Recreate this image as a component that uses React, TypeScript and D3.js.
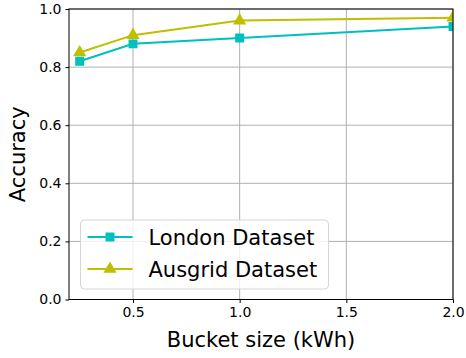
import { useEffect, useRef } from "react"
import * as d3 from "d3"

// Datos
const bucketSizes = [0.25, 0.5, 1.0, 2.0]
const londonAccuracy = [0.82, 0.88, 0.9, 0.94]
const ausgridAccuracy = [0.85, 0.91, 0.96, 0.97]
const xTicks = [0.5, 1.0, 1.5, 2.0]
const yTicks = [0.0, 0.2, 0.4, 0.6, 0.8, 1.0]
const seriesNames = ["London Dataset", "Ausgrid Dataset"]

export default function App() {
  const svgRef = useRef<SVGSVGElement>(null)

  useEffect(() => {
    if (!svgRef.current) return
    const svg = d3.select(svgRef.current)
    svg.selectAll("*").remove()

    const font = "DejaVu Sans"
    const margin = { top: 9, right: 13, bottom: 58.5, left: 69 }
    const width = 466
    const height = 358
    const innerWidth = width - margin.left - margin.right
    const innerHeight = height - margin.top - margin.bottom

    const x = d3.scaleLinear().domain([0.2, 2.0]).range([0, innerWidth])
    const y = d3.scaleLinear().domain([0, 1]).range([innerHeight, 0])

    const g = svg.append("g").attr("transform", `translate(${margin.left},${margin.top})`)

    // Recorte al área de los ejes
    svg
      .append("defs")
      .append("clipPath")
      .attr("id", "plot-clip")
      .append("rect")
      .attr("width", innerWidth)
      .attr("height", innerHeight)

    // Rejilla
    g.append("g")
      .selectAll("line")
      .data(xTicks)
      .join("line")
      .attr("x1", (d) => x(d))
      .attr("x2", (d) => x(d))
      .attr("y1", 0)
      .attr("y2", innerHeight)
      .attr("stroke", "#b0b0b0")
      .attr("stroke-width", 1)
    g.append("g")
      .selectAll("line")
      .data(yTicks)
      .join("line")
      .attr("x1", 0)
      .attr("x2", innerWidth)
      .attr("y1", (d) => y(d))
      .attr("y2", (d) => y(d))
      .attr("stroke", "#b0b0b0")
      .attr("stroke-width", 1)

    // Ejes
    const xAxis = g
      .append("g")
      .attr("transform", `translate(0,${innerHeight})`)
      .call(d3.axisBottom(x).tickValues(xTicks).tickFormat(d3.format(".1f")).tickSize(3.5).tickPadding(4))
    const yAxis = g
      .append("g")
      .call(d3.axisLeft(y).tickValues(yTicks).tickFormat(d3.format(".1f")).tickSize(3.5).tickPadding(4))
    ;[xAxis, yAxis].forEach((a) => {
      a.select(".domain").remove()
      a.selectAll("text").style("font-family", font).style("font-size", "14px").attr("fill", "#000")
      a.selectAll("line").attr("stroke", "#000")
    })

    const series = [
      { name: seriesNames[0], values: londonAccuracy, color: "#00bfbf", marker: d3.symbolSquare, size: 80 },
      { name: seriesNames[1], values: ausgridAccuracy, color: "#bfbf00", marker: d3.symbolTriangle, size: 75 },
    ]

    const line = d3
      .line<number>()
      .x((_, i) => x(bucketSizes[i]))
      .y((d) => y(d))

    const plot = g.append("g").attr("clip-path", "url(#plot-clip)")
    series.forEach((s) => {
      plot
        .append("path")
        .attr("d", line(s.values))
        .attr("fill", "none")
        .attr("stroke", s.color)
        .attr("stroke-width", 2)
      plot
        .append("g")
        .selectAll("path")
        .data(s.values)
        .join("path")
        .attr("transform", (d, i) => `translate(${x(bucketSizes[i])},${y(d)})`)
        .attr("d", d3.symbol().type(s.marker).size(s.size)())
        .attr("fill", s.color)
    })

    // Marco
    g.append("rect")
      .attr("width", innerWidth)
      .attr("height", innerHeight)
      .attr("fill", "none")
      .attr("stroke", "#000")
      .attr("stroke-width", 1)

    // Leyenda
    const legend = svg.append("g").attr("transform", "translate(80.5,220)")
    legend
      .append("rect")
      .attr("width", 248)
      .attr("height", 69)
      .attr("rx", 4)
      .attr("fill", "rgba(255,255,255,0.8)")
      .attr("stroke", "#d5d5d5")
      .attr("stroke-width", 1)
    series.forEach((s, i) => {
      const row = legend.append("g").attr("transform", `translate(0,${17 + i * 32})`)
      row.append("line").attr("x1", 7).attr("x2", 52).attr("stroke", s.color).attr("stroke-width", 2)
      row
        .append("path")
        .attr("transform", "translate(29.5,0)")
        .attr("d", d3.symbol().type(s.marker).size(s.size)())
        .attr("fill", s.color)
      row
        .append("text")
        .attr("x", 68)
        .attr("y", 0)
        .attr("dy", "0.36em")
        .style("font-family", font)
        .style("font-size", "21px")
        .text(s.name)
    })

    // Títulos
    svg
      .append("text")
      .attr("x", margin.left + innerWidth / 2)
      .attr("y", 347)
      .attr("text-anchor", "middle")
      .style("font-family", font)
      .style("font-size", "21px")
      .text("Bucket size (kWh)")
    svg
      .append("text")
      .attr("transform", `translate(25,${margin.top + innerHeight / 2}) rotate(-90)`)
      .attr("text-anchor", "middle")
      .style("font-family", font)
      .style("font-size", "21px")
      .text("Accuracy")
  }, [])

  return <svg ref={svgRef} width={466} height={358} style={{ position: "absolute", left: 0, top: 0 }} />
}
